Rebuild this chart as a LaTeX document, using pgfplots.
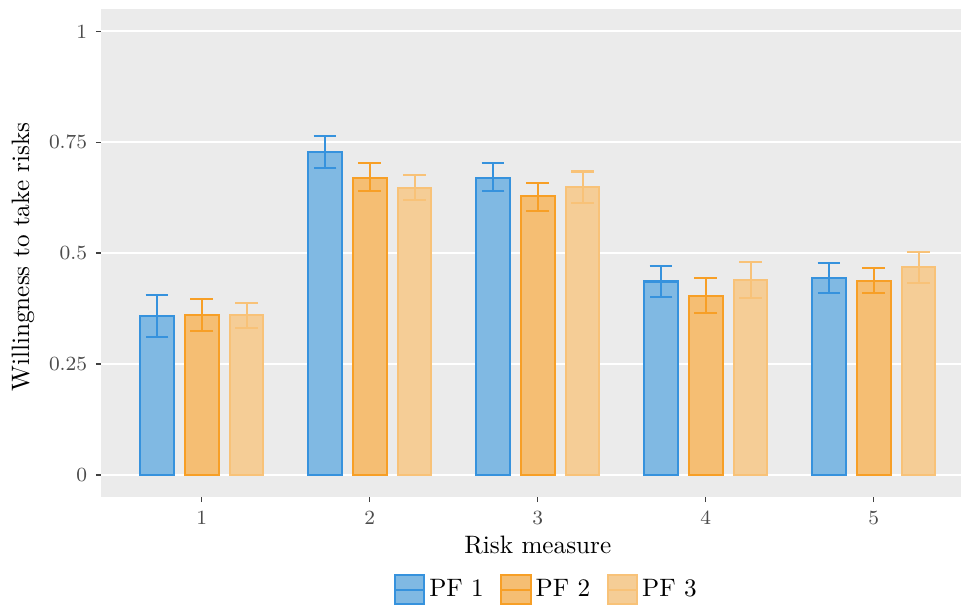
\documentclass[border=0pt]{standalone}
\usepackage{pgfplots}
\pgfplotsset{compat=1.18}

\definecolor{panelbg}{RGB}{235,235,235}
\definecolor{lineA}{RGB}{54,146,221}
\definecolor{fillA}{RGB}{128,185,227}
\definecolor{lineB}{RGB}{247,159,38}
\definecolor{fillB}{RGB}{245,190,115}
\definecolor{lineC}{RGB}{248,194,120}
\definecolor{fillC}{RGB}{245,205,150}

\pgfplotsset{
  pf legend/.style={legend image code/.code={
    \draw[##1,line width=0.8pt] (0pt,-5.8pt) rectangle (11.8pt,5.8pt);
    \draw[##1,line width=0.8pt,fill=none] (0pt,0pt) -- (11.8pt,0pt);}},
  pf bar/.style={draw=#1, line width=0.8pt,
    error bars/y dir=both, error bars/y explicit,
    error bars/error bar style={draw=#1, line width=0.8pt},
    error bars/error mark options={draw=#1, rotate=90, mark size=4.5pt, line width=0.8pt},
    pf legend},
}

\begin{document}
\begin{tikzpicture}
\begin{axis}[
  scale only axis,
  width=346.8pt, height=193.7pt,
  xmin=0.4, xmax=5.6, ymin=-0.05, ymax=1.05,
  axis background/.style={fill=panelbg},
  axis line style={draw=none},
  ymajorgrids, grid style={white, line width=0.8pt},
  xtick={1,2,3,4,5},
  ytick={0,0.25,0.5,0.75,1},
  yticklabels={0,0.25,0.5,0.75,1},
  xtick pos=bottom, ytick pos=left,
  tick align=outside, major tick length=2pt,
  tick style={black!75, line width=0.5pt},
  tick label style={font=\footnotesize, text=black!70},
  xlabel={Risk measure},
  ylabel={Willingness to take risks},
  every axis x label/.style={at={(axis description cs:0.5,-0.098)}, anchor=center},
  every axis y label/.style={at={(axis description cs:-0.0893,0.492)}, rotate=90, anchor=center},
  ybar, bar width=0.2,
  legend style={at={(axis description cs:0.51,-0.19)}, anchor=center,
    draw=none, fill=none, legend columns=3, font=\normalsize,
    /tikz/every odd column/.append style={column sep=0.5pt},
    /tikz/every even column/.append style={column sep=5.5pt},
    nodes={inner sep=1pt}},
]
\coordinate (pSW) at (rel axis cs:0,0);

% PF 1
\addplot[pf bar=lineA, fill=fillA, bar shift=-0.2667] coordinates {
  (1,0.359) += (0,0.047) -= (0,0.047)
  (2,0.727) += (0,0.036) -= (0,0.036)
  (3,0.670) += (0,0.034) -= (0,0.031)
  (4,0.436) += (0,0.035) -= (0,0.034)
  (5,0.445) += (0,0.033) -= (0,0.034)
};
% PF 2
\addplot[pf bar=lineB, fill=fillB, bar shift=0] coordinates {
  (1,0.361) += (0,0.036) -= (0,0.036)
  (2,0.670) += (0,0.034) -= (0,0.029)
  (3,0.628) += (0,0.031) -= (0,0.032)
  (4,0.403) += (0,0.040) -= (0,0.039)
  (5,0.438) += (0,0.029) -= (0,0.028)
};
% PF 3
\addplot[pf bar=lineC, fill=fillC, bar shift=0.2667] coordinates {
  (1,0.361) += (0,0.027) -= (0,0.029)
  (2,0.646) += (0,0.029) -= (0,0.027)
  (3,0.648) += (0,0.036) -= (0,0.036)
  (4,0.439) += (0,0.042) -= (0,0.041)
  (5,0.468) += (0,0.034) -= (0,0.035)
};
\legend{PF 1, PF 2, PF 3}
\end{axis}
\pgfresetboundingbox
\path[use as bounding box] (pSW) ++(-40.1pt,-43.67pt) rectangle ++(381.5pt,241pt);
\end{tikzpicture}
\end{document}
